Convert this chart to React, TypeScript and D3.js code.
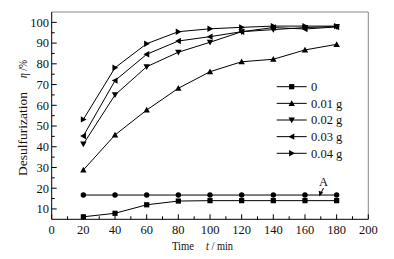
import React from "react";
import * as d3 from "d3";

const times = [20, 40, 60, 80, 100, 120, 140, 160, 180];
const s0 = [6.2, 7.9, 12, 13.8, 14, 14, 14, 14, 14];
const s001 = [28.8, 45.7, 57.7, 68.2, 76.2, 81, 82.2, 86.7, 89.4];
const s002 = [41.3, 65, 78.6, 85.6, 90.4, 95.5, 96.5, 97.5, 98];
const s003 = [45.2, 71.9, 84.6, 91, 93.1, 95.5, 97.5, 96.8, 97.8];
const s004 = [53.2, 78.1, 89.7, 95.5, 96.9, 97.6, 98.2, 98.2, 98.2];
const sA = [16.7, 16.7, 16.7, 16.7, 16.7, 16.7, 16.7, 16.7, 16.7];
const legendLabels = ["0", "0.01 g", "0.02 g", "0.03 g", "0.04 g"];
const xTicks = [0, 20, 40, 60, 80, 100, 120, 140, 160, 180, 200];
const yTicks = [10, 20, 30, 40, 50, 60, 70, 80, 90, 100];

type Shape = "square" | "up" | "down" | "left" | "right" | "circle";
const series: { values: number[]; shape: Shape }[] = [
  { values: s0, shape: "square" },
  { values: s001, shape: "up" },
  { values: s002, shape: "down" },
  { values: s003, shape: "left" },
  { values: s004, shape: "right" },
  { values: sA, shape: "circle" },
];

const FONT = '"Liberation Serif", "Times New Roman", Times, serif';
const ts: React.CSSProperties = { fontFamily: FONT };

function Marker({ x, y, shape }: { x: number; y: number; shape: Shape }) {
  const s = 3.2;
  switch (shape) {
    case "square":
      return <rect x={x - 2.6} y={y - 2.6} width={5.2} height={5.2} fill="#000" />;
    case "circle":
      return <circle cx={x} cy={y} r={2.7} fill="#000" />;
    case "up":
      return <path d={`M${x},${y - s}L${x + s},${y + s * 0.8}L${x - s},${y + s * 0.8}Z`} fill="#000" />;
    case "down":
      return <path d={`M${x},${y + s}L${x + s},${y - s * 0.8}L${x - s},${y - s * 0.8}Z`} fill="#000" />;
    case "left":
      return <path d={`M${x - s},${y}L${x + s * 0.8},${y - s}L${x + s * 0.8},${y + s}Z`} fill="#000" />;
    case "right":
      return <path d={`M${x + s},${y}L${x - s * 0.8},${y - s}L${x - s * 0.8},${y + s}Z`} fill="#000" />;
  }
  return null;
}

export default function App() {
  const W = 394, H = 259;
  const L = 51.7, R = 368.3, T = 12, B = 219.3;
  const x = d3.scaleLinear().domain([0, 200]).range([L, R]);
  const y = d3.scaleLinear().domain([5, 105]).range([B, T]);
  const line = d3
    .line<number>()
    .x((_, i) => x(times[i]))
    .y((d) => y(d));
  const xMinor = d3.range(10, 200, 20);
  const yMinor = d3.range(15, 105, 10);
  const legX1 = 276.7, legX2 = 306.7, legY0 = 86.7, legDy = 16.65;

  return (
    <svg width={W} height={H} style={{ position: "absolute", left: 0, top: 0, background: "#fff" }}>
      <rect x={0} y={0} width={W} height={H} fill="#fff" />
      {/* frame */}
      <line x1={L} y1={T} x2={R} y2={T} stroke="#888" strokeWidth={1} />
      <line x1={R} y1={T} x2={R} y2={B} stroke="#888" strokeWidth={1} />
      <line x1={L} y1={T} x2={L} y2={B} stroke="#000" strokeWidth={1} />
      <line x1={L} y1={B} x2={R} y2={B} stroke="#000" strokeWidth={1} />
      {/* x ticks */}
      {xTicks.map((t) => (
        <g key={"xt" + t}>
          <line x1={x(t)} x2={x(t)} y1={B} y2={B - 5} stroke="#000" />
          <text x={x(t)} y={233.5} fontSize={12.5} textAnchor="middle" fill="#111" style={ts}>
            {t}
          </text>
        </g>
      ))}
      {xMinor.map((t) => (
        <line key={"xm" + t} x1={x(t)} x2={x(t)} y1={B} y2={B - 3} stroke="#000" />
      ))}
      {/* y ticks */}
      {yTicks.map((t) => (
        <g key={"yt" + t}>
          <line x1={L} x2={L + 5} y1={y(t)} y2={y(t)} stroke="#000" />
          <text x={49} y={y(t) + 4.3} fontSize={12.5} textAnchor="end" fill="#111" style={ts}>
            {t}
          </text>
        </g>
      ))}
      {yMinor.map((t) => (
        <line key={"ym" + t} x1={L} x2={L + 3} y1={y(t)} y2={y(t)} stroke="#000" />
      ))}
      {/* series */}
      {series.map((s, si) => (
        <g key={"s" + si}>
          <path d={line(s.values) || ""} fill="none" stroke="#000" strokeWidth={1} />
          {s.values.map((v, i) => (
            <Marker key={i} x={x(times[i])} y={y(v)} shape={s.shape} />
          ))}
        </g>
      ))}
      {/* legend */}
      {legendLabels.map((lab, i) => {
        const ly = legY0 + i * legDy;
        return (
          <g key={"lg" + i}>
            <line x1={legX1} x2={legX2} y1={ly} y2={ly} stroke="#000" />
            <Marker x={(legX1 + legX2) / 2} y={ly} shape={series[i].shape} />
            <text x={311} y={ly + 4.3} fontSize={12.5} fill="#111" style={ts}>
              {lab}
            </text>
          </g>
        );
      })}
      {/* annotation A */}
      <text x={323.5} y={186} fontSize={12.5} textAnchor="middle" fill="#111" style={ts}>
        A
      </text>
      <line x1={323.5} y1={188} x2={320} y2={195} stroke="#000" />
      <path d="M319.3,196.5 L318.8,190.8 L323.2,192.6 Z" fill="#000" />
      {/* axis titles */}
      <text x={172} y={250} fontSize={12.5} fill="#111" style={ts} textLength={22} lengthAdjust="spacingAndGlyphs">
        Time
      </text>
      <text x={206} y={250} fontSize={12.5} fill="#111" style={ts} textLength={27} lengthAdjust="spacingAndGlyphs">
        <tspan fontStyle="italic">t</tspan> / min
      </text>
      <text
        transform={`translate(26.5,176) rotate(-90)`}
        fontSize={13.5}
        fill="#111"
        style={ts}
        textLength={84}
        lengthAdjust="spacingAndGlyphs"
      >
        Desulfurization
      </text>
      <text
        transform={`translate(26.5,78) rotate(-90)`}
        fontSize={13}
        fill="#111"
        style={ts}
        textLength={18}
        lengthAdjust="spacingAndGlyphs"
      >
        <tspan fontStyle="italic">η</tspan> /%
      </text>
    </svg>
  );
}
